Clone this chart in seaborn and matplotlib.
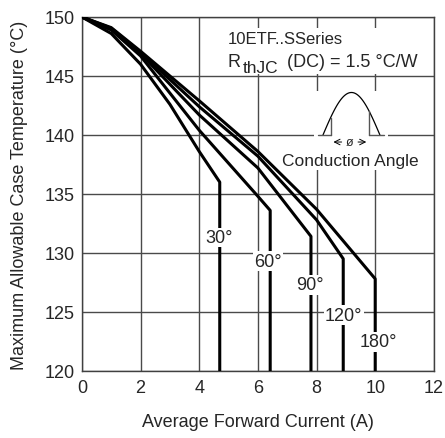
import numpy as np
import pandas as pd
import seaborn as sns
import matplotlib.pyplot as plt
from matplotlib.patches import Rectangle

# Curve data (x = current in A, y = case temperature in degC)
x_30 = [0, 1, 2, 3, 4, 4.7, 4.7]
y_30 = [150, 148.6, 146.0, 142.6, 138.6, 136.0, 120]
x_60 = [0, 1, 2, 4, 6, 6.42, 6.42]
y_60 = [150, 148.9, 146.7, 140.4, 134.8, 133.6, 120]
x_90 = [0, 1, 2, 4, 6, 7.81, 7.81]
y_90 = [150, 149.0, 146.9, 141.7, 137.2, 131.4, 120]
x_120 = [0, 1, 2, 4, 6, 8, 8.91, 8.91]
y_120 = [150, 149.05, 147.0, 142.4, 138.2, 132.8, 129.5, 120]
x_180 = [0, 1, 2, 4, 6, 8, 10.0, 10.0]
y_180 = [150, 149.1, 147.1, 142.9, 138.6, 133.7, 127.8, 120]

angles = ['30°', '60°', '90°', '120°', '180°']
label_x = [4.67, 6.35, 7.77, 8.93, 10.12]
label_y = [131.3, 129.3, 127.3, 124.7, 122.45]

xs = [x_30, x_60, x_90, x_120, x_180]
ys = [y_30, y_60, y_90, y_120, y_180]
frames = []
for name, xv, yv in zip(angles, xs, ys):
    frames.append(pd.DataFrame({'current': xv, 'temp': yv, 'angle': name}))
df = pd.concat(frames, ignore_index=True)

sns.set_style('white')
plt.rcParams['font.family'] = ['Liberation Sans', 'DejaVu Sans']

fig = plt.figure(figsize=(4.45, 4.39), dpi=100)
ax = fig.add_axes([0.184, 0.153, 0.791, 0.806])

sns.lineplot(data=df, x='current', y='temp', hue='angle', units='angle',
             estimator=None, sort=False, palette=['black'] * 5,
             linewidth=2.2, legend=False, ax=ax, zorder=3)

ax.set_xlim(0, 12)
ax.set_ylim(120, 150)
ax.set_xticks(range(0, 13, 2))
ax.set_yticks(range(120, 151, 5))
ax.grid(True, color='#4a4a4a', linewidth=1.0)
ax.set_axisbelow(True)
for s in ax.spines.values():
    s.set_color('#404040')
    s.set_linewidth(1.0)
ax.tick_params(length=0, labelsize=13)
ax.tick_params(axis='x', pad=6)
ax.tick_params(axis='y', pad=5)
ax.set_xlabel('Average Forward Current (A)', fontsize=13, labelpad=12)
ax.set_ylabel('Maximum Allowable Case Temperature (°C)', fontsize=13, labelpad=12)

# curve labels with white boxes
for name, lx, ly in zip(angles, label_x, label_y):
    ax.text(lx, ly, name, fontsize=13, ha='center', va='center', zorder=5,
            bbox=dict(facecolor='white', edgecolor='none', pad=1))

# series / thermal resistance text
ax.add_patch(Rectangle((4.9, 145.2), 7.05, 3.85, facecolor='white',
                       edgecolor='none', zorder=2))
ax.text(4.98, 148.15, '10ETF..SSeries', fontsize=12, va='center', zorder=4)
ax.text(4.98, 146.25, 'R', fontsize=13, va='center', zorder=4)
ax.text(5.48, 145.7, 'thJC', fontsize=12.5, va='center', zorder=4)
ax.text(6.99, 146.25, '(DC) = 1.5 °C/W', fontsize=13, va='center', zorder=4)

# conduction angle symbol
ax.add_patch(Rectangle((7.9, 137.1), 2.55, 6.6, facecolor='white',
                       edgecolor='none', zorder=2))
t = np.linspace(0, np.pi, 60)
bx = 8.22 + (10.16 - 8.22) * t / np.pi
by = 140.0 + 3.6 * np.sin(t)
ax.plot(bx, by, color='black', linewidth=0.9, zorder=4)
ax.plot([8.05, 8.48], [140, 140], color='#555555', linewidth=1.0, zorder=4)
ax.plot([9.79, 10.3], [140, 140], color='#555555', linewidth=1.0, zorder=4)
for vx in [8.48, 9.79]:
    top = 140.0 + 3.6 * np.sin(np.pi * (vx - 8.22) / (10.16 - 8.22))
    ax.plot([vx, vx], [140, top], color='#555555', linewidth=1.0, zorder=4)
ax.annotate('', xy=(8.48, 139.4), xytext=(8.95, 139.4),
            arrowprops=dict(arrowstyle='->', color='black', lw=0.7), zorder=4)
ax.annotate('', xy=(9.79, 139.4), xytext=(9.32, 139.4),
            arrowprops=dict(arrowstyle='->', color='black', lw=0.7), zorder=4)
ax.text(9.14, 139.4, 'ø', fontsize=9, ha='center', va='center', zorder=4)
ax.text(9.14, 137.8, 'Conduction Angle', fontsize=12.5, ha='center',
        va='center', zorder=4,
        bbox=dict(facecolor='white', edgecolor='none', pad=1))

fig.savefig('out.png', dpi=100)
